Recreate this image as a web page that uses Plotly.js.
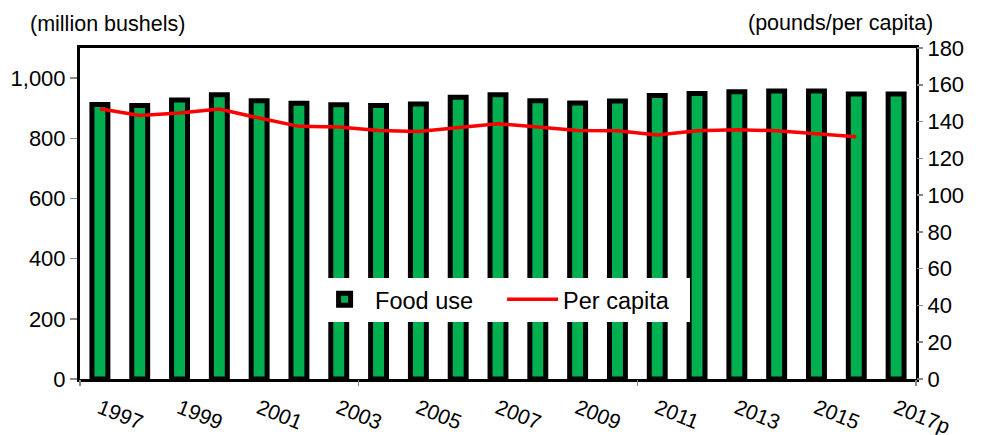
<!DOCTYPE html>
<html>
<head>
<meta charset="utf-8">
<script src="https://cdn.plot.ly/plotly-3.0.1.min.js"></script>
<style>html,body{margin:0;padding:0;background:#fff;}#chart{width:982px;height:435px;}</style>
</head>
<body>
<div id="chart"></div>
<script>
const years = [1997,1998,1999,2000,2001,2002,2003,2004,2005,2006,2007,2008,2009,2010,2011,2012,2013,2014,2015,2016,2017];
const foodUse = [912,909,927,945,925,916,911,909,914,936,945,925,917,924,942,949,955,957,957,947,947];
const perCapitaYears = [1997,1998,1999,2000,2001,2002,2003,2004,2005,2006,2007,2008,2009,2010,2011,2012,2013,2014,2015,2016];
const perCapita = [147.0,143.3,144.6,146.8,141.9,137.4,137.0,135.2,134.6,136.5,138.8,137.0,135.2,135.0,132.7,135.0,135.6,135.0,133.4,131.8];
const tickYears = [1997,1999,2001,2003,2005,2007,2009,2011,2013,2015,2017];
const tickLabels = ['1997','1999','2001','2003','2005','2007','2009','2011','2013','2015','2017p'];
const boundaryTicks = [1996.5,2003.5,2010.5,2017.5];

const FONT = 'Liberation Sans, Arial, sans-serif';

const traces = [
  {
    type: 'bar', name: 'Food use', x: years, y: foodUse,
    width: 0.4,
    marker: {color: '#00B050', line: {color: '#000000', width: 5}},
    xaxis: 'x', yaxis: 'y'
  },
  {
    type: 'scatter', mode: 'lines', name: 'Per capita', x: perCapitaYears, y: perCapita,
    line: {color: '#FF0000', width: 3.5},
    xaxis: 'x', yaxis: 'y2'
  },
  {
    type: 'scatter', mode: 'markers', x: [1996.5], y: [0], showlegend: false,
    marker: {opacity: 0}, hoverinfo: 'skip', xaxis: 'x2', yaxis: 'y'
  }
];

const layout = {
  width: 982, height: 435,
  margin: {l: 80, r: 66, t: 48, b: 56},
  paper_bgcolor: '#ffffff', plot_bgcolor: '#ffffff',
  font: {family: FONT, size: 22, color: '#000000'},
  showlegend: true,
  xaxis: {
    type: 'linear', range: [1996.5, 2017.5],
    tickmode: 'array', tickvals: tickYears, ticktext: tickLabels,
    tickangle: 22, ticks: '', ticklabelstandoff: 6, showgrid: false, zeroline: false,
    showline: true, linecolor: '#000000', linewidth: 3, mirror: true,
    tickfont: {family: FONT, size: 21, color: '#000000'}
  },
  xaxis2: {
    type: 'linear', range: [1996.5, 2017.5], overlaying: 'x', side: 'bottom',
    tickmode: 'array', tickvals: boundaryTicks, showticklabels: false,
    ticks: 'outside', ticklen: 6, tickcolor: '#888888', tickwidth: 1.5,
    showgrid: false, zeroline: false, showline: false
  },
  yaxis: {
    range: [0, 1100], tickmode: 'array', tickvals: [0,200,400,600,800,1000],
    tickformat: ',', ticks: 'outside', ticklen: 7, tickcolor: '#888888', tickwidth: 1.5,
    showgrid: false, zeroline: false,
    showline: true, linecolor: '#000000', linewidth: 3, mirror: true,
    tickfont: {family: FONT, size: 22, color: '#000000'}
  },
  yaxis2: {
    range: [0, 180], overlaying: 'y', side: 'right',
    tickmode: 'array', tickvals: [0,20,40,60,80,100,120,140,160,180],
    ticks: 'outside', ticklen: 6, tickcolor: '#888888', tickwidth: 1.5,
    showgrid: false, zeroline: false, showline: false,
    tickfont: {family: FONT, size: 22, color: '#000000'}
  },
  legend: {
    orientation: 'h', x: 0.280, y: 0.24, xanchor: 'left', yanchor: 'middle',
    bgcolor: '#ffffff', borderwidth: 0, itemwidth: 51, entrywidth: 122, entrywidthmode: 'pixels',
    font: {family: FONT, size: 23.5, color: '#000000'},
    traceorder: 'normal'
  },
  annotations: [
    {text: '(million bushels)', xref: 'paper', yref: 'paper', x: -0.0622, y: 1.0, xanchor: 'left', yanchor: 'bottom', yshift: 10, showarrow: false, font: {family: FONT, size: 21.5, color: '#000000'}},
    {text: '(pounds/per capita)', xref: 'paper', yref: 'paper', x: 1.0227, y: 1.0, xanchor: 'right', yanchor: 'bottom', yshift: 11, showarrow: false, font: {family: FONT, size: 21.5, color: '#000000'}}
  ]
};

Plotly.newPlot('chart', traces, layout, {displayModeBar: false, staticPlot: true});
</script>
</body>
</html>
